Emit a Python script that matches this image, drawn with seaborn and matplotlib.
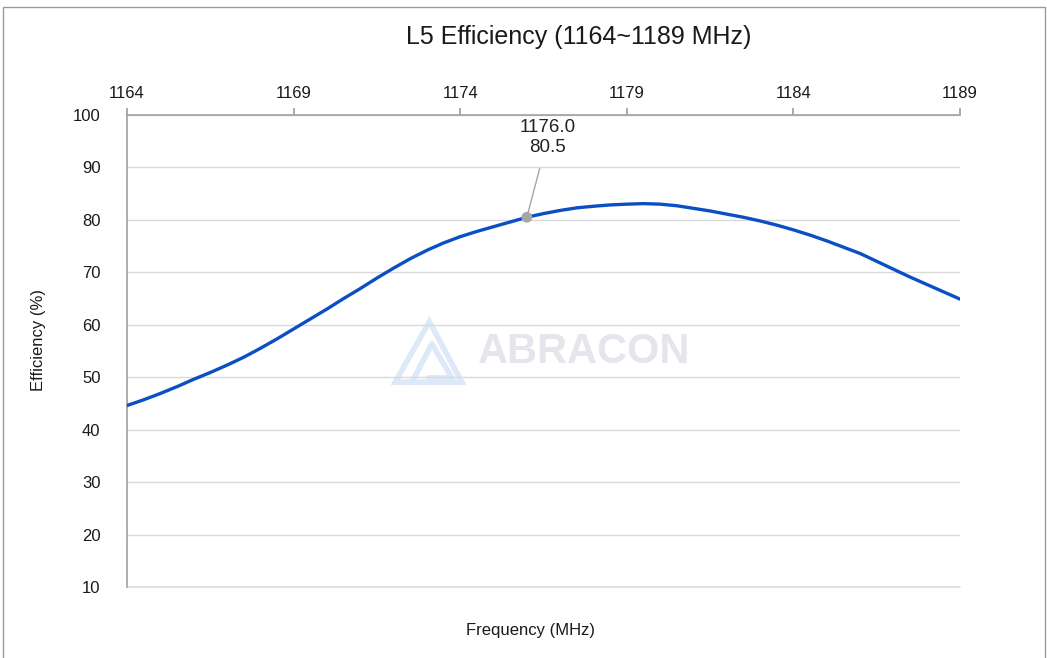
import matplotlib
matplotlib.use("Agg")
import matplotlib.pyplot as plt
import seaborn as sns
import pandas as pd
from matplotlib.patches import Polygon, Rectangle
from matplotlib.lines import Line2D

freq = [1164.0, 1164.5, 1165.0, 1165.5, 1166.0, 1166.5, 1167.0, 1167.5, 1168.0, 1168.5,
        1169.0, 1169.5, 1170.0, 1170.5, 1171.0, 1171.5, 1172.0, 1172.5, 1173.0, 1173.5,
        1174.0, 1174.5, 1175.0, 1175.5, 1176.0, 1176.5, 1177.0, 1177.5, 1178.0, 1178.5,
        1179.0, 1179.5, 1180.0, 1180.5, 1181.0, 1181.5, 1182.0, 1182.5, 1183.0, 1183.5,
        1184.0, 1184.5, 1185.0, 1185.5, 1186.0, 1186.5, 1187.0, 1187.5, 1188.0, 1188.5,
        1189.0]
efficiency = [44.6, 45.7, 46.9, 48.2, 49.6, 50.9, 52.3, 53.8, 55.5, 57.3,
              59.2, 61.1, 63.0, 65.0, 66.9, 68.9, 70.8, 72.6, 74.2, 75.6,
              76.8, 77.8, 78.7, 79.6, 80.5, 81.2, 81.8, 82.3, 82.6, 82.85,
              83.0, 83.1, 83.0, 82.7, 82.2, 81.7, 81.1, 80.5, 79.8, 79.0,
              78.1, 77.1, 76.0, 74.8, 73.6, 72.1, 70.6, 69.1, 67.7, 66.3,
              64.9]
x_ticks = [1164, 1169, 1174, 1179, 1184, 1189]
y_ticks = [10, 20, 30, 40, 50, 60, 70, 80, 90, 100]
marker_freq = [1176.0]
marker_eff = [80.5]

sns.set_theme(style="white")
plt.rcParams['font.family'] = ['Liberation Sans', 'DejaVu Sans']

df = pd.DataFrame({"Frequency": freq, "Efficiency": efficiency})

fig = plt.figure(figsize=(10.47, 6.58), dpi=100)
ax = fig.add_axes([127/1047, 1-587/658, (960-127)/1047, (587-115)/658])

# watermark
ax.text(0.421, 0.498, "ABRACON", transform=ax.transAxes, ha="left", va="center",
        fontsize=30, fontweight="bold", color="#e4e6ec", zorder=0)
logo_col = "#dde8f8"
ax.add_patch(Polygon([[0.363, 0.562], [0.322, 0.434], [0.402, 0.434]], closed=True,
                     transform=ax.transAxes, fill=False, edgecolor=logo_col, linewidth=4,
                     joinstyle="miter", zorder=0))
ax.add_line(Line2D([0.342, 0.366, 0.390, 0.362], [0.434, 0.515, 0.443, 0.443],
                   transform=ax.transAxes, color=logo_col, linewidth=4, zorder=0))

ax.axhline(10, color="#d9d9d9", linewidth=1.2, clip_on=False, zorder=1)
sns.lineplot(data=df, x="Frequency", y="Efficiency", ax=ax, color="#0a4fc4", linewidth=2.4, zorder=3)
ax.scatter(marker_freq, marker_eff, s=60, color="#a6a6a6", zorder=4, edgecolor="none")
ax.annotate(f"{marker_freq[0]:.1f}\n{marker_eff[0]:.1f}", xy=(marker_freq[0], marker_eff[0]),
            xytext=(1176.63, 95.7), ha="center", va="center", fontsize=13.5,
            color="#222222", linespacing=1.2,
            arrowprops=dict(arrowstyle="-", color="#a6a6a6", lw=1, shrinkA=7, shrinkB=0))

ax.set_xlim(1164, 1189)
ax.set_ylim(10, 100)
ax.set_xticks(x_ticks)
ax.set_yticks(y_ticks)
ax.xaxis.tick_top()
ax.tick_params(axis="x", direction="out", length=5, color="#a0a0a0", labelsize=12, pad=5, labelcolor="#1a1a1a")
ax.tick_params(axis="y", direction="out", length=5, color="#a0a0a0", labelsize=12, pad=14, labelcolor="#1a1a1a")
ax.yaxis.grid(True, color="#d9d9d9", linewidth=1)
ax.xaxis.grid(False)
for s in ["right", "bottom"]:
    ax.spines[s].set_visible(False)
for s in ["left", "top"]:
    ax.spines[s].set_color("#a0a0a0")
    ax.spines[s].set_linewidth(1.2)

ax.set_xlabel("")
ax.set_ylabel("")
fig.text(38/1047, 1-340/658, "Efficiency (%)", ha="center", va="center", rotation=90,
         fontsize=12, color="#1a1a1a")
fig.text(531/1047, 1-631/658, "Frequency (MHz)", ha="center", va="center", fontsize=12, color="#1a1a1a")
fig.text(578.5/1047, 1-37/658, "L5 Efficiency (1164~1189 MHz)", ha="center", va="center",
         fontsize=18, color="#1a1a1a")

fig.patches.append(Rectangle((0.003, -0.01), 0.995, 0.999, transform=fig.transFigure,
                             fill=False, edgecolor="#9a9a9a", linewidth=1))

fig.savefig("out.png", dpi=100)
